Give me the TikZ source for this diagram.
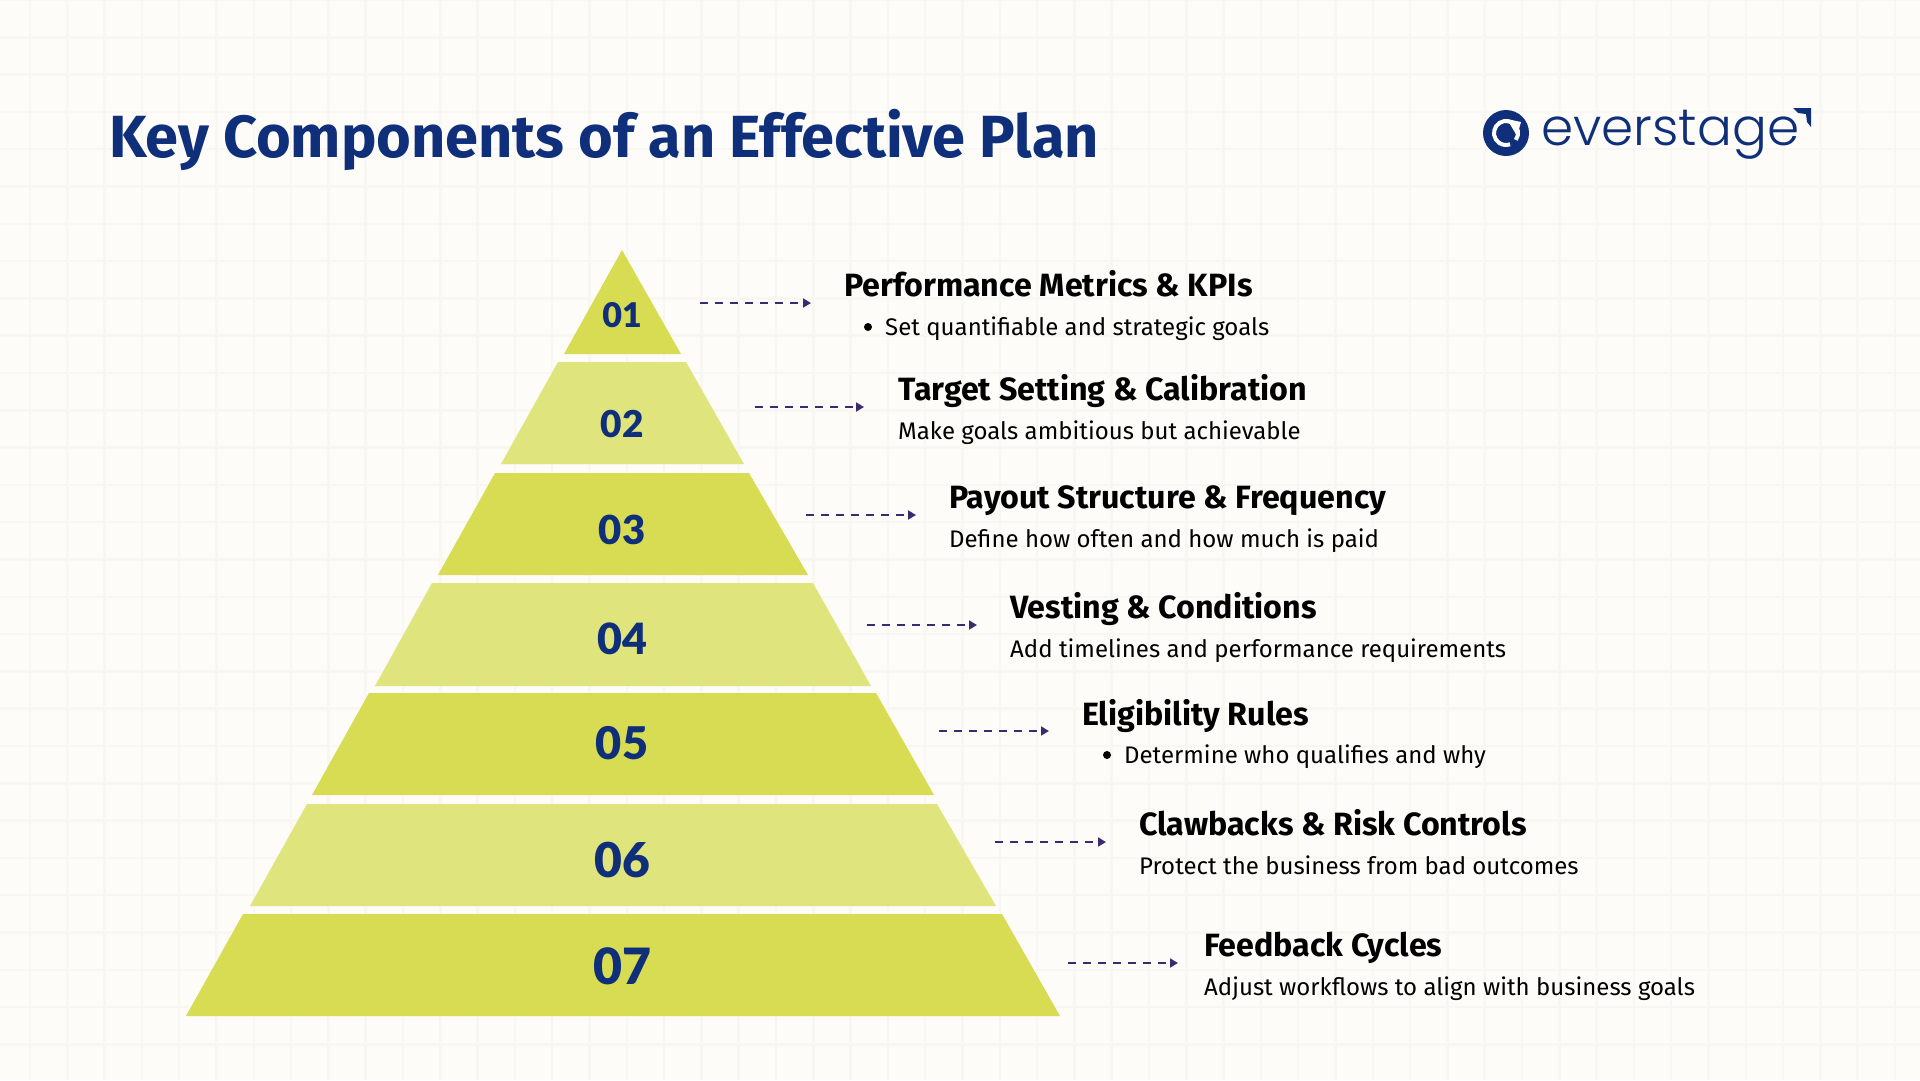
\documentclass[tikz,border=0pt]{standalone}
\usepackage{fontspec}
\setmainfont{Fira Sans}
\newfontfamily\logofont{Poppins Light}
\newfontfamily\numfont{Lato Black}
\usetikzlibrary{positioning}
\usetikzlibrary {arrows.meta}
\definecolor{paper}{HTML}{FDFCF8}
\definecolor{paperline}{HTML}{F8F7F2}
\definecolor{navy}{HTML}{0F2F7A}
\definecolor{bandA}{HTML}{D7DC52}
\definecolor{bandB}{HTML}{E0E47C}
\definecolor{dashcol}{HTML}{3B2A70}
\tikzset{planhead/.style={anchor=base west,inner sep=0pt,font=\fontsize{32.2}{36}\selectfont\bfseries,text=black}}
\tikzset{plantext/.style={anchor=base west,inner sep=0pt,font=\fontsize{24}{30}\selectfont,text=black}}
\tikzset{plannum/.style={inner sep=0pt,text=navy}}
\tikzset{planbullet/.style={circle,fill=black,inner sep=0pt,minimum size=8pt}}
\tikzset{planarrow/.style={line width=1.8pt,dashcol,dash pattern=on 8pt off 7pt,-{Triangle[length=8pt,width=9pt]}}}

\begin{document}
\begin{tikzpicture}[x=1pt,y=-1pt]

        \useasboundingbox (0,0) rectangle (1920,1080);
        \fill[paper] (0,0) rectangle (1920,1080);
        \draw[paperline,line width=2.5pt,xstep=37.3pt,ystep=37.3pt,xshift=-7.3pt] (0,0) grid (1940,1080);

        \node[anchor=base west,inner sep=0pt,font=\fontsize{59.5}{70}\selectfont\bfseries,text=navy] (title) at (109,157) {Key Components of an Effective Plan};

        \fill[navy] (1506,133) circle (23);
        \draw[white,line width=4pt] (1506,133) ++(35:12) arc (35:-290:12);
        \fill[white] (1507,119) -- (1521,122) -- (1517,136) -- cycle;
        \node[anchor=base west,inner sep=0pt,font=\fontsize{51.7}{56}\logofont,text=navy] (logo) at (1541,145) {everstage};
        \fill[navy] (1793,108) -- (1811,108) -- (1811,127) -- (1807,122) -- (1806,114) -- (1798,113) -- cycle;

        \fill[bandA] (622,250) -- (681,354) -- (564,354) -- cycle;
        \fill[bandB] (558,362) -- (686,362) -- (744,464) -- (501,464) -- cycle;
        \fill[bandA] (495,473) -- (749,473) -- (808,575) -- (438,575) -- cycle;
        \fill[bandB] (432,583) -- (813,583) -- (871,686) -- (375,686) -- cycle;
        \fill[bandA] (369,693) -- (876,693) -- (934,795) -- (312,795) -- cycle;
        \fill[bandB] (307,804) -- (937,804) -- (996,906) -- (250,906) -- cycle;
        \fill[bandA] (243,914) -- (1002,914) -- (1060,1016) -- (186,1016) -- cycle;

        \node[plannum,font=\fontsize{34}{36}\numfont] (numA) at (622,315) {01};
        \node[plannum,font=\fontsize{37}{40}\numfont] (numB) at (622,424) {02};
        \node[plannum,font=\fontsize{40}{42}\numfont] (numC) at (622,530) {03};
        \node[plannum,font=\fontsize{43}{44}\numfont] (numD) at (622,639) {04};
        \node[plannum,font=\fontsize{45}{48}\numfont] (numE) at (622,743) {05};
        \node[plannum,font=\fontsize{48}{50}\numfont] (numF) at (622,860) {06};
        \node[plannum,font=\fontsize{50}{54}\numfont] (numG) at (622,966) {07};

        \node[planhead] (headA) at (844,296) {Performance Metrics \& KPIs};
        \node[planhead] (headB) at (898,400) {Target Setting \& Calibration};
        \node[planhead] (headC) at (949,508) {Payout Structure \& Frequency};
        \node[planhead] (headD) at (1010,618) {Vesting \& Conditions};
        \node[planhead] (headE) at (1082,725) {Eligibility Rules};
        \node[planhead] (headF) at (1139,835) {Clawbacks \& Risk Controls};
        \node[planhead] (headG) at (1204,956) {Feedback Cycles};

        \node[plantext] (textA) at ([xshift=41pt,yshift=-39pt]headA.base west) {Set quantifiable and strategic goals};
        \node[plantext] (textB) at ([yshift=-39pt]headB.base west) {Make goals ambitious but achievable};
        \node[plantext] (textC) at ([yshift=-39pt]headC.base west) {Define how often and how much is paid};
        \node[plantext] (textD) at ([yshift=-39pt]headD.base west) {Add timelines and performance requirements};
        \node[plantext] (textE) at ([xshift=42pt,yshift=-38pt]headE.base west) {Determine who qualifies and why};
        \node[plantext] (textF) at ([yshift=-39pt]headF.base west) {Protect the business from bad outcomes};
        \node[plantext] (textG) at ([yshift=-39pt]headG.base west) {Adjust workflows to align with business goals};

        \node[planbullet] (bulletA) at (868,327) {};
        \node[planbullet] (bulletE) at (1107,755) {};

        \coordinate (dashAl) at (700,303);
        \coordinate (dashAr) at (811,303);
        \draw[planarrow] (dashAl) -- (dashAr);

        \coordinate (dashBl) at (755,407);
        \coordinate (dashBr) at (864,407);
        \draw[planarrow] (dashBl) -- (dashBr);

        \coordinate (dashCl) at (806,515);
        \coordinate (dashCr) at (916,515);
        \draw[planarrow] (dashCl) -- (dashCr);

        \coordinate (dashDl) at (867,625);
        \coordinate (dashDr) at (977,625);
        \draw[planarrow] (dashDl) -- (dashDr);

        \coordinate (dashEl) at (939,731);
        \coordinate (dashEr) at (1049,731);
        \draw[planarrow] (dashEl) -- (dashEr);

        \coordinate (dashFl) at (995,842);
        \coordinate (dashFr) at (1106,842);
        \draw[planarrow] (dashFl) -- (dashFr);

        \coordinate (dashGl) at (1068,963);
        \coordinate (dashGr) at (1178,963);
        \draw[planarrow] (dashGl) -- (dashGr);

    \end{tikzpicture}
\end{document}
